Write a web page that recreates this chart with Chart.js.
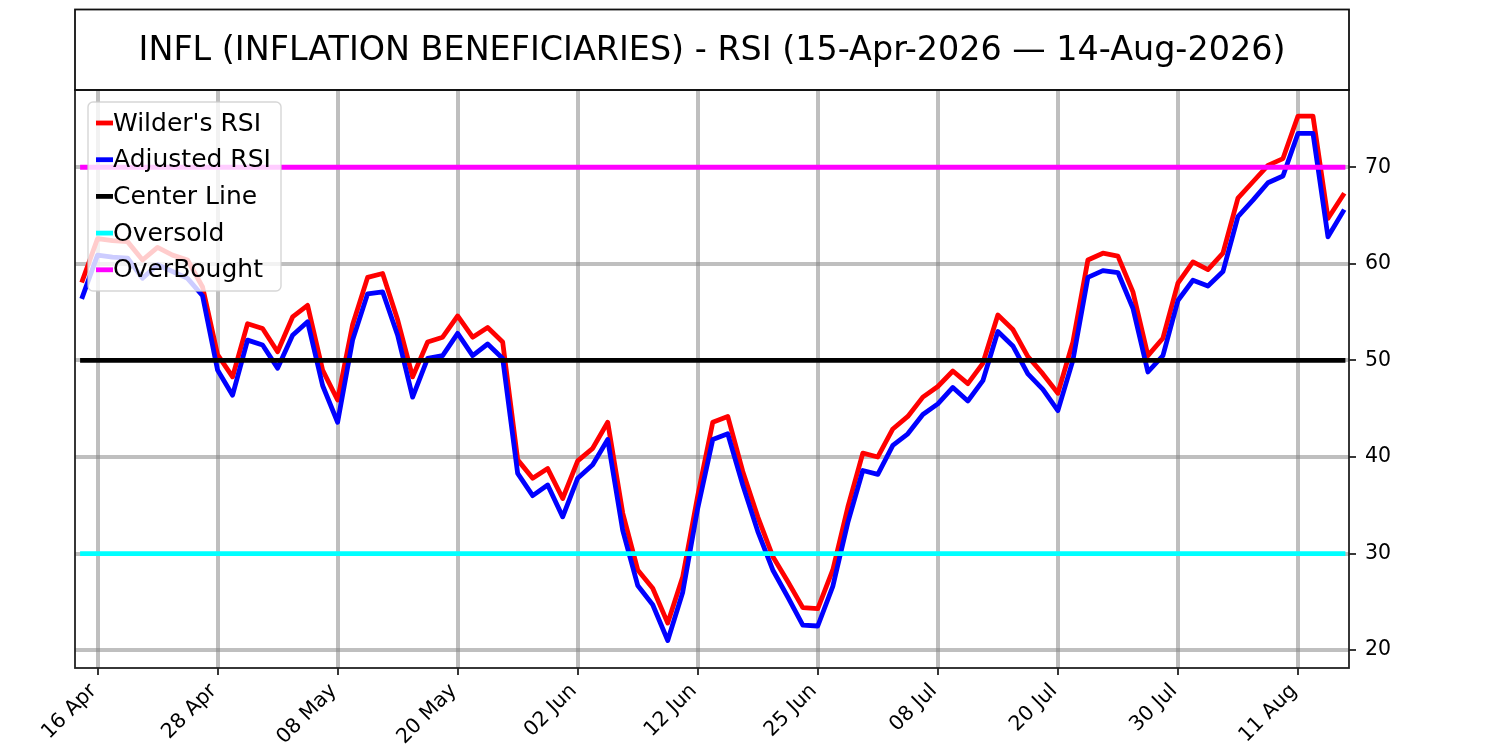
<!DOCTYPE html>
<html>
<head>
<meta charset="utf-8">
<title>INFL RSI</title>
<script src="https://cdn.jsdelivr.net/npm/chart.js@4.4.1/dist/chart.umd.min.js"></script>
<style>
  html, body { margin: 0; padding: 0; background: #fff; }
  canvas { display: block; }
</style>
</head>
<body>
<canvas id="chart-rsi" width="1500" height="750"></canvas>
<script>
// trading days 15-Apr-2026 .. 14-Aug-2026
const dates = [
    '15 Apr', '16 Apr', '17 Apr', '20 Apr', '21 Apr', '22 Apr', '23 Apr', '24 Apr', '27 Apr', '28 Apr',
    '29 Apr', '30 Apr', '01 May', '04 May', '05 May', '06 May', '07 May', '08 May', '11 May', '12 May',
    '13 May', '14 May', '15 May', '18 May', '19 May', '20 May', '21 May', '22 May', '26 May', '27 May',
    '28 May', '29 May', '01 Jun', '02 Jun', '03 Jun', '04 Jun', '05 Jun', '08 Jun', '09 Jun', '10 Jun',
    '11 Jun', '12 Jun', '15 Jun', '16 Jun', '17 Jun', '18 Jun', '22 Jun', '23 Jun', '24 Jun', '25 Jun',
    '26 Jun', '29 Jun', '30 Jun', '01 Jul', '02 Jul', '06 Jul', '07 Jul', '08 Jul', '09 Jul', '10 Jul',
    '13 Jul', '14 Jul', '15 Jul', '16 Jul', '17 Jul', '20 Jul', '21 Jul', '22 Jul', '23 Jul', '24 Jul',
    '27 Jul', '28 Jul', '29 Jul', '30 Jul', '31 Jul', '03 Aug', '04 Aug', '05 Aug', '06 Aug', '07 Aug',
    '10 Aug', '11 Aug', '12 Aug', '13 Aug', '14 Aug'
];

// which dates get a labelled tick
const tickDates = ['16 Apr', '28 Apr', '08 May', '20 May', '02 Jun', '12 Jun', '25 Jun', '08 Jul', '20 Jul', '30 Jul', '11 Aug'];

const wilderRsi = [
    58.3, 62.6, 62.4, 62.3, 60.4, 61.7, 60.9, 60.4, 57.6, 50.6,
    48.3, 53.8, 53.3, 50.9, 54.5, 55.7, 49.0, 45.9, 53.7, 58.6,
    59.0, 54.2, 48.3, 51.9, 52.4, 54.6, 52.4, 53.4, 51.9, 39.7,
    37.8, 38.8, 35.7, 39.6, 40.9, 43.6, 34.2, 28.3, 26.4, 22.8,
    27.6, 36.0, 43.6, 44.2, 38.5, 33.8, 29.7, 27.1, 24.4, 24.3,
    28.3, 34.8, 40.4, 40.0, 42.9, 44.2, 46.2, 47.3, 48.9, 47.6,
    49.7, 54.7, 53.2, 50.4, 48.6, 46.6, 51.9, 60.4, 61.1, 60.8,
    57.1, 50.5, 52.3, 58.0, 60.2, 59.4, 61.1, 66.8, 68.5, 70.2,
    70.9, 75.3, 75.3, 64.7, 67.1
];

const adjustedRsi = [
    56.6, 60.9, 60.7, 60.6, 58.5, 59.9, 59.2, 58.5, 56.7, 49.0,
    46.4, 52.1, 51.6, 49.2, 52.6, 54.0, 47.4, 43.6, 52.1, 56.9,
    57.1, 52.6, 46.2, 50.2, 50.5, 52.8, 50.5, 51.7, 50.2, 38.3,
    36.0, 37.1, 33.8, 37.8, 39.2, 41.8, 32.4, 26.7, 24.7, 21.0,
    26.0, 34.7, 41.8, 42.4, 37.1, 32.3, 28.3, 25.5, 22.6, 22.5,
    26.6, 33.2, 38.6, 38.2, 41.2, 42.4, 44.4, 45.5, 47.2, 45.8,
    47.9, 53.0, 51.5, 48.6, 47.0, 44.8, 50.0, 58.6, 59.3, 59.1,
    55.4, 48.8, 50.5, 56.2, 58.3, 57.7, 59.2, 64.9, 66.6, 68.4,
    69.1, 73.5, 73.5, 62.8, 65.4
];

const centerLevel = 50;
const oversoldLevel = 30;
const overboughtLevel = 70;

const yTicks = [20, 30, 40, 50, 60, 70];

const titleText = 'INFL (INFLATION BENEFICIARIES) - RSI (15-Apr-2026 \u2014 14-Aug-2026)';
const FONT = "'DejaVu Sans', 'Liberation Sans', sans-serif";

function series(values) {
    return values.map(function (v, i) {
        return { x: i, y: v };
    });
}

function level(v) {
    return [{ x: 0, y: v }, { x: dates.length - 1, y: v }];
}

function lineSet(label, data, color, order) {
    return {
        label: label,
        data: data,
        borderColor: color,
        backgroundColor: color,
        borderWidth: 4.8,
        pointRadius: 0,
        tension: 0,
        borderJoinStyle: 'round',
        borderCapStyle: 'square',
        order: order
    };
}

// frame, title box and legend drawn on top, matplotlib style
const decorations = {
    id: 'decorations',
    afterDatasetsDraw(chart) {
        const ctx = chart.ctx;
        const a = chart.chartArea;
        ctx.save();
        ctx.strokeStyle = '#222';
        ctx.lineWidth = 1.8;
        ctx.strokeRect(a.left, a.top, a.right - a.left, a.bottom - a.top);
        ctx.restore();
    },
    afterDraw(chart) {
        const ctx = chart.ctx;
        const a = chart.chartArea;
        ctx.save();

        // title box
        ctx.strokeStyle = '#111';
        ctx.lineWidth = 1.8;
        ctx.strokeRect(a.left, 9.5, a.right - a.left, a.top - 9.5);
        ctx.fillStyle = '#000';
        ctx.font = '33.4px ' + FONT;
        ctx.textAlign = 'center';
        ctx.textBaseline = 'middle';
        ctx.fillText(titleText, (a.left + a.right) / 2, 51);

        // legend
        const bx = a.left + 13, by = a.top + 12, bw = 193, bh = 189, r = 5;
        ctx.beginPath();
        ctx.moveTo(bx + r, by);
        ctx.arcTo(bx + bw, by, bx + bw, by + bh, r);
        ctx.arcTo(bx + bw, by + bh, bx, by + bh, r);
        ctx.arcTo(bx, by + bh, bx, by, r);
        ctx.arcTo(bx, by, bx + bw, by, r);
        ctx.closePath();
        ctx.fillStyle = 'rgba(255,255,255,0.8)';
        ctx.fill();
        ctx.strokeStyle = 'rgba(204,204,204,0.8)';
        ctx.lineWidth = 1.4;
        ctx.stroke();

        ctx.font = '25px ' + FONT;
        ctx.textAlign = 'left';
        ctx.textBaseline = 'middle';
        chart.data.datasets.forEach(function (ds, i) {
            const cy = by + 21 + i * 36.7;
            ctx.strokeStyle = ds.borderColor;
            ctx.lineWidth = 4.8;
            ctx.lineCap = 'butt';
            ctx.beginPath();
            ctx.moveTo(bx + 8, cy);
            ctx.lineTo(bx + 25, cy);
            ctx.stroke();
            ctx.fillStyle = '#000';
            ctx.fillText(ds.label, bx + 25, cy + 1);
        });
        ctx.restore();
    }
};

const gridColor = 'rgba(128,128,128,0.5)';

const config = {
    type: 'line',
    data: {
        datasets: [
            lineSet("Wilder's RSI", series(wilderRsi), '#ff0000', 5),
            lineSet('Adjusted RSI', series(adjustedRsi), '#0000ff', 4),
            lineSet('Center Line', level(centerLevel), '#000000', 3),
            lineSet('Oversold', level(oversoldLevel), '#00ffff', 2),
            lineSet('OverBought', level(overboughtLevel), '#ff00ff', 1)
        ]
    },
    options: {
        responsive: false,
        animation: false,
        devicePixelRatio: 1,
        layout: {
            padding: { left: 75, top: 90, right: 0, bottom: 0 }
        },
        plugins: {
            legend: { display: false },
            title: { display: false },
            tooltip: { enabled: false }
        },
        scales: {
            x: {
                type: 'linear',
                min: -0.5,
                max: 84.4,
                afterBuildTicks: function (scale) {
                    scale.ticks = tickDates.map(function (d) {
                        return { value: dates.indexOf(d) };
                    });
                },
                afterFit: function (scale) {
                    scale.height = 82;
                },
                border: { display: false },
                grid: {
                    color: gridColor,
                    lineWidth: 4,
                    tickColor: '#222',
                    tickWidth: 1.8,
                    tickLength: 7
                },
                ticks: {
                    autoSkip: false,
                    maxRotation: 45,
                    minRotation: 45,
                    padding: 4,
                    labelOffset: -4,
                    color: '#000',
                    font: { family: FONT, size: 20.5 },
                    callback: function (value) {
                        return dates[value];
                    }
                }
            },
            y: {
                position: 'right',
                min: 18.15,
                max: 78.0,
                afterBuildTicks: function (scale) {
                    scale.ticks = yTicks.map(function (v) {
                        return { value: v };
                    });
                },
                afterFit: function (scale) {
                    scale.width = 151;
                },
                border: { display: false },
                grid: {
                    color: gridColor,
                    lineWidth: 4,
                    tickColor: '#222',
                    tickWidth: 1.8,
                    tickLength: 7
                },
                ticks: {
                    padding: 9,
                    color: '#000',
                    font: { family: FONT, size: 20.5 }
                }
            }
        }
    },
    plugins: [decorations]
};

const chart = new Chart(document.getElementById('chart-rsi'), config);
</script>
</body>
</html>
